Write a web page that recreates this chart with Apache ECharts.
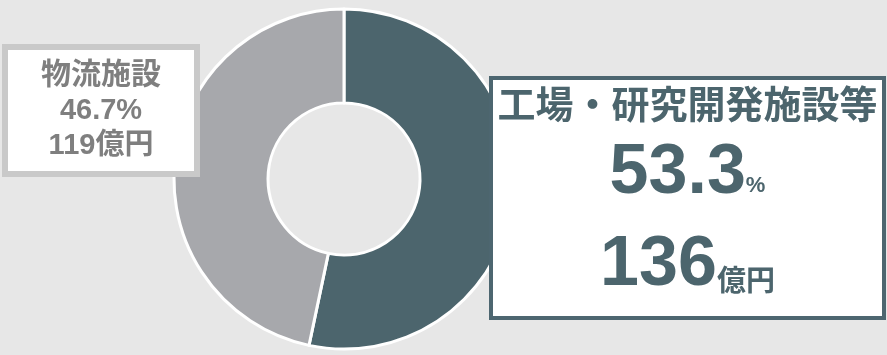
<!DOCTYPE html>
<html><head><meta charset="utf-8">
<script src="https://cdn.jsdelivr.net/npm/echarts@6/dist/echarts.min.js"></script>
<style>html,body{margin:0;padding:0;background:#e7e7e7}#c{width:887px;height:355px}</style>
</head><body><div id="c"></div>
<script>
const categories = ['工場・研究開発施設等', '物流施設'];
const shares = [53.3, 46.7];
const amounts = [136, 119];
const unitPct = '%';
const unitAmount = '億円';

const sliceColors = ['#4c656d', '#a7a8ac'];
const NUM = "'Liberation Sans', Arial, 'Noto Sans CJK JP', sans-serif";
const CJK = "'Noto Sans CJK JP', 'Liberation Sans', sans-serif";

const chart = echarts.init(document.getElementById('c'), null, {renderer: 'canvas'});

const rightLabel = {
  show: true,
  formatter: '{t|' + categories[0] + '}\n{p|' + shares[0].toFixed(1) + '}{ps|' + unitPct + '}\n{a|' + amounts[0] + '}{au|' + unitAmount + '}',
  width: 389, height: 236, padding: 0,
  backgroundColor: '#ffffff', borderColor: '#4d6670', borderWidth: 4,
  color: '#4c656d',
  rich: {
    t: {fontFamily: CJK, fontWeight: 'bold', fontSize: 38, lineHeight: 48, color: '#4c656d', verticalAlign: 'middle'},
    p: {fontFamily: NUM, fontWeight: 'bold', fontSize: 70, lineHeight: 92, color: '#4c656d', verticalAlign: 'middle'},
    ps: {fontFamily: NUM, fontWeight: 'bold', fontSize: 22, lineHeight: 24, height: 68, color: '#4c656d', verticalAlign: 'bottom'},
    a: {fontFamily: NUM, fontWeight: 'bold', fontSize: 70, lineHeight: 92, color: '#4c656d', verticalAlign: 'middle'},
    au: {fontFamily: CJK, fontWeight: 'bold', fontSize: 29, lineHeight: 32, height: 64, color: '#4c656d', verticalAlign: 'bottom'}
  }
};

const leftLabel = {
  show: true,
  formatter: '{t|' + categories[1] + '}\n{p|' + shares[1].toFixed(1) + unitPct + '}\n{a|' + amounts[1] + unitAmount + '}',
  width: 186, height: 121, padding: 0,
  backgroundColor: '#ffffff', borderColor: '#c9c9c9', borderWidth: 6,
  color: '#7f7f7f',
  rich: {
    t: {fontFamily: CJK, fontWeight: 'bold', fontSize: 30, lineHeight: 46, color: '#7f7f7f', verticalAlign: 'middle'},
    p: {fontFamily: NUM, fontWeight: 'bold', fontSize: 29, lineHeight: 30, color: '#7f7f7f', verticalAlign: 'middle'},
    a: {fontFamily: NUM, fontWeight: 'bold', fontSize: 29, lineHeight: 40, color: '#7f7f7f', verticalAlign: 'middle'}
  }
};
const labels = [rightLabel, leftLabel];

chart.setOption({
  backgroundColor: '#e7e7e7',
  animation: false,
  series: [{
    type: 'pie',
    center: [344, 179],
    radius: [76, 170],
    startAngle: 90,
    clockwise: true,
    avoidLabelOverlap: false,
    itemStyle: {borderColor: '#ffffff', borderWidth: 3},
    emphasis: {disabled: true},
    labelLine: {show: false},
    label: {show: true, position: 'outside'},
    labelLayout: function (p) {
      if (p.dataIndex === 0) return {x: 687.5, y: 80, align: 'center', verticalAlign: 'top'};
      return {x: 101, y: 50, align: 'center', verticalAlign: 'top'};
    },
    data: categories.map(function (c, i) {
      return {name: c, value: shares[i], itemStyle: {color: sliceColors[i]}, label: labels[i]};
    })
  }]
});
</script></body></html>
